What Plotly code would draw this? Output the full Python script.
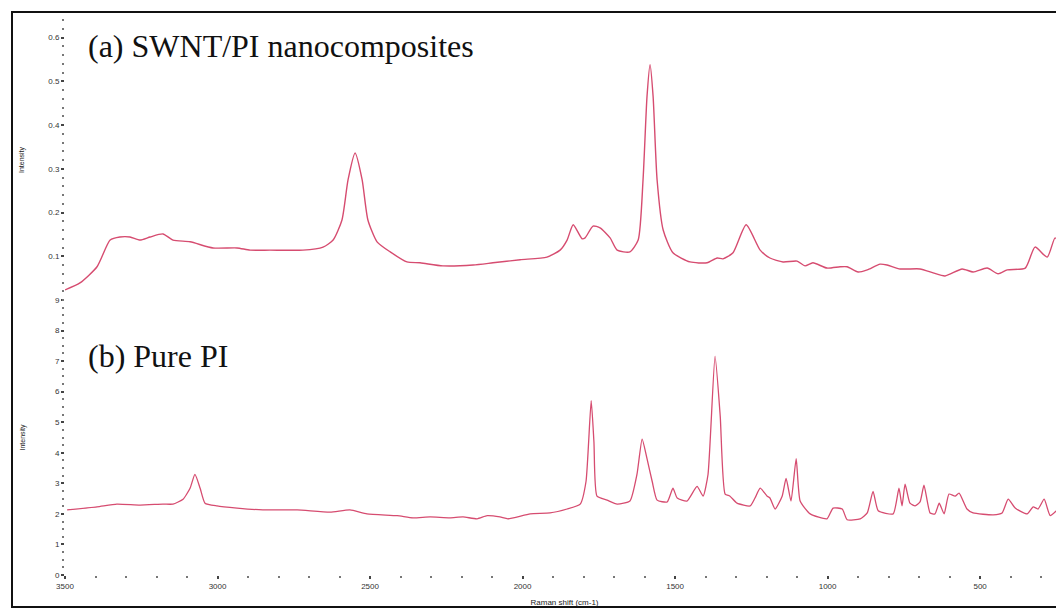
import plotly.graph_objects as go

# (a) SWNT/PI nanocomposites
shift_a = [3500, 3451, 3395, 3352, 3320, 3287, 3254, 3221, 3179, 3146, 3090, 3015, 2936, 2893,
           2828, 2720, 2654, 2621, 2592, 2572, 2549, 2526, 2507, 2477, 2434, 2379, 2336, 2261,
           2162, 2097, 2008, 1920, 1877, 1854, 1834, 1805, 1795, 1769, 1746, 1713, 1690, 1648,
           1621, 1605, 1592, 1582, 1572, 1559, 1539, 1507, 1451, 1395, 1362, 1343, 1310, 1267,
           1221, 1189, 1146, 1100, 1074, 1048, 1002, 959, 936, 900, 870, 828, 805, 762, 697,
           654, 615, 559, 523, 477, 441, 411, 352, 320, 280, 254, 225]
int_a = [0.023, 0.039, 0.076, 0.137, 0.144, 0.144, 0.137, 0.144, 0.151, 0.137, 0.133, 0.119,
         0.119, 0.114, 0.114, 0.114, 0.121, 0.137, 0.183, 0.275, 0.336, 0.275, 0.183, 0.133,
         0.110, 0.087, 0.085, 0.078, 0.080, 0.085, 0.092, 0.098, 0.114, 0.137, 0.172, 0.140,
         0.142, 0.169, 0.165, 0.142, 0.114, 0.110, 0.137, 0.275, 0.465, 0.538, 0.465, 0.275,
         0.160, 0.108, 0.087, 0.085, 0.096, 0.094, 0.108, 0.172, 0.114, 0.096, 0.087, 0.089,
         0.078, 0.085, 0.073, 0.076, 0.076, 0.064, 0.069, 0.082, 0.080, 0.071, 0.071, 0.062,
         0.055, 0.071, 0.064, 0.073, 0.060, 0.069, 0.073, 0.121, 0.098, 0.142, 0.103]

# (b) Pure PI
shift_b = [3493, 3395, 3330, 3254, 3179, 3146, 3113, 3090, 3074, 3057, 3041, 3002, 2936, 2851,
           2739, 2631, 2566, 2510, 2411, 2359, 2303, 2238, 2195, 2149, 2116, 2074, 2048, 1975,
           1910, 1854, 1811, 1792, 1775, 1766, 1756, 1723, 1690, 1648, 1625, 1608, 1592, 1575,
           1559, 1526, 1507, 1493, 1461, 1428, 1408, 1392, 1369, 1352, 1336, 1320, 1297, 1254,
           1238, 1221, 1198, 1189, 1172, 1149, 1136, 1120, 1103, 1090, 1057, 1002, 982, 952,
           936, 893, 870, 851, 834, 785, 766, 756, 746, 730, 713, 697, 684, 664, 648, 634, 618,
           602, 582, 569, 543, 523, 457, 428, 408, 385, 346, 326, 310, 290, 270, 238, 225]
int_b = [2.13, 2.23, 2.32, 2.29, 2.32, 2.32, 2.48, 2.84, 3.29, 2.84, 2.35, 2.26, 2.19, 2.13,
         2.13, 2.06, 2.13, 2.00, 1.94, 1.87, 1.90, 1.87, 1.90, 1.84, 1.94, 1.90, 1.84, 2.00,
         2.03, 2.16, 2.32, 3.06, 5.71, 4.35, 2.58, 2.45, 2.32, 2.42, 3.29, 4.45, 3.81, 3.06,
         2.45, 2.39, 2.84, 2.52, 2.42, 2.90, 2.58, 3.29, 7.16, 5.20, 2.65, 2.58, 2.35, 2.26,
         2.52, 2.84, 2.58, 2.52, 2.16, 2.58, 3.16, 2.42, 3.81, 2.42, 2.00, 1.84, 2.19, 2.16,
         1.81, 1.84, 2.03, 2.74, 2.10, 2.00, 2.84, 2.26, 2.97, 2.35, 2.26, 2.39, 2.94, 2.03,
         2.00, 2.35, 2.00, 2.65, 2.58, 2.68, 2.16, 2.03, 1.97, 2.03, 2.48, 2.19, 2.00, 2.23,
         2.16, 2.48, 1.94, 2.19, 1.71]

x_ticks = [3500, 3000, 2500, 2000, 1500, 1000, 500]
x_tick_labels = ["3500", "3000", "2500", "2000", "1500", "1000", "500"]
ya_ticks = [0.1, 0.2, 0.3, 0.4, 0.5, 0.6]
ya_tick_labels = ["0.1", "0.2", "0.3", "0.4", "0.5", "0.6"]
yb_ticks = [0, 1, 2, 3, 4, 5, 6, 7, 8, 9]
yb_tick_labels = [str(v) for v in yb_ticks]

line_color = "#d64c70"
tick_font = dict(family="Liberation Sans, Arial", size=8, color="#333333")

fig = go.Figure()
fig.add_trace(go.Scatter(x=shift_a, y=int_a, mode="lines", xaxis="x2", yaxis="y2",
                         line=dict(color=line_color, width=1.4, shape="spline", smoothing=0.6),
                         showlegend=False, hoverinfo="skip"))
fig.add_trace(go.Scatter(x=shift_b, y=int_b, mode="lines", xaxis="x", yaxis="y",
                         line=dict(color=line_color, width=1.3, shape="spline", smoothing=0.5),
                         showlegend=False, hoverinfo="skip"))

# page body has an 8px margin: figure is 1056x603 placed at (8, 8)
split = (575 - 300) / 555.0

fig.update_layout(
    width=1056, height=603,
    margin=dict(l=57, r=0, t=12, b=36),
    paper_bgcolor="white", plot_bgcolor="white",
    xaxis=dict(range=[3500, 225], domain=[0, 1], anchor="y",
               tickmode="array", tickvals=x_ticks, ticktext=x_tick_labels,
               ticks="outside", ticklen=3, tickwidth=1.5, tickcolor="#444",
               tickfont=tick_font, showgrid=False, zeroline=False, showline=False,
               minor=dict(dtick=100, tick0=0, ticks="outside", ticklen=2, tickwidth=1.5,
                          tickcolor="#777", showgrid=False),
               title=dict(text="Raman shift (cm-1)", font=dict(family="Liberation Sans, Arial", size=8, color="#222"),
                          standoff=9)),
    yaxis=dict(range=[0, 9], domain=[0, split], anchor="x",
               tickmode="array", tickvals=yb_ticks, ticktext=yb_tick_labels,
               ticks="outside", ticklen=3, tickwidth=1.5, tickcolor="#444",
               tickfont=tick_font, showgrid=False, zeroline=False, showline=False,
               minor=dict(dtick=0.25, ticks="outside", ticklen=2, tickwidth=1.5,
                          tickcolor="#777", showgrid=False),
               title=dict(text="Intensity", font=dict(family="Liberation Sans, Arial", size=7, color="#222"),
                          standoff=28)),
    xaxis2=dict(range=[3500, 225], domain=[0, 1], anchor="y2", matches="x",
                showticklabels=False, ticks="", showgrid=False, zeroline=False, showline=False),
    yaxis2=dict(range=[0, 0.64], domain=[split, 1], anchor="x2",
                tickmode="array", tickvals=ya_ticks, ticktext=ya_tick_labels,
                ticks="outside", ticklen=3, tickwidth=1.5, tickcolor="#444",
                tickfont=tick_font, showgrid=False, zeroline=False, showline=False,
                minor=dict(dtick=0.02, ticks="outside", ticklen=2, tickwidth=1.5,
                           tickcolor="#777", showgrid=False),
                title=dict(text="Intensity", font=dict(family="Liberation Sans, Arial", size=7, color="#222"),
                           standoff=22)),
    annotations=[
        dict(text="(a) SWNT/PI nanocomposites", xref="paper", yref="paper",
             x=(86 - 65) / 999.0, y=(575 - 46) / 555.0, xanchor="left", yanchor="middle",
             showarrow=False, font=dict(family="Liberation Serif, Times New Roman", size=32, color="#111")),
        dict(text="(b) Pure PI", xref="paper", yref="paper",
             x=(86 - 65) / 999.0, y=(575 - 356) / 555.0, xanchor="left", yanchor="middle",
             showarrow=False, font=dict(family="Liberation Serif, Times New Roman", size=32, color="#111")),
    ],
    shapes=[
        dict(type="rect", xref="paper", yref="paper",
             x0=(12 - 65) / 999.0, x1=(1063 - 65) / 999.0,
             y0=(575 - 607) / 555.0, y1=(575 - 12) / 555.0,
             line=dict(color="#111", width=2), fillcolor="rgba(0,0,0,0)", layer="above"),
    ],
)

fig.write_html("out.html")
